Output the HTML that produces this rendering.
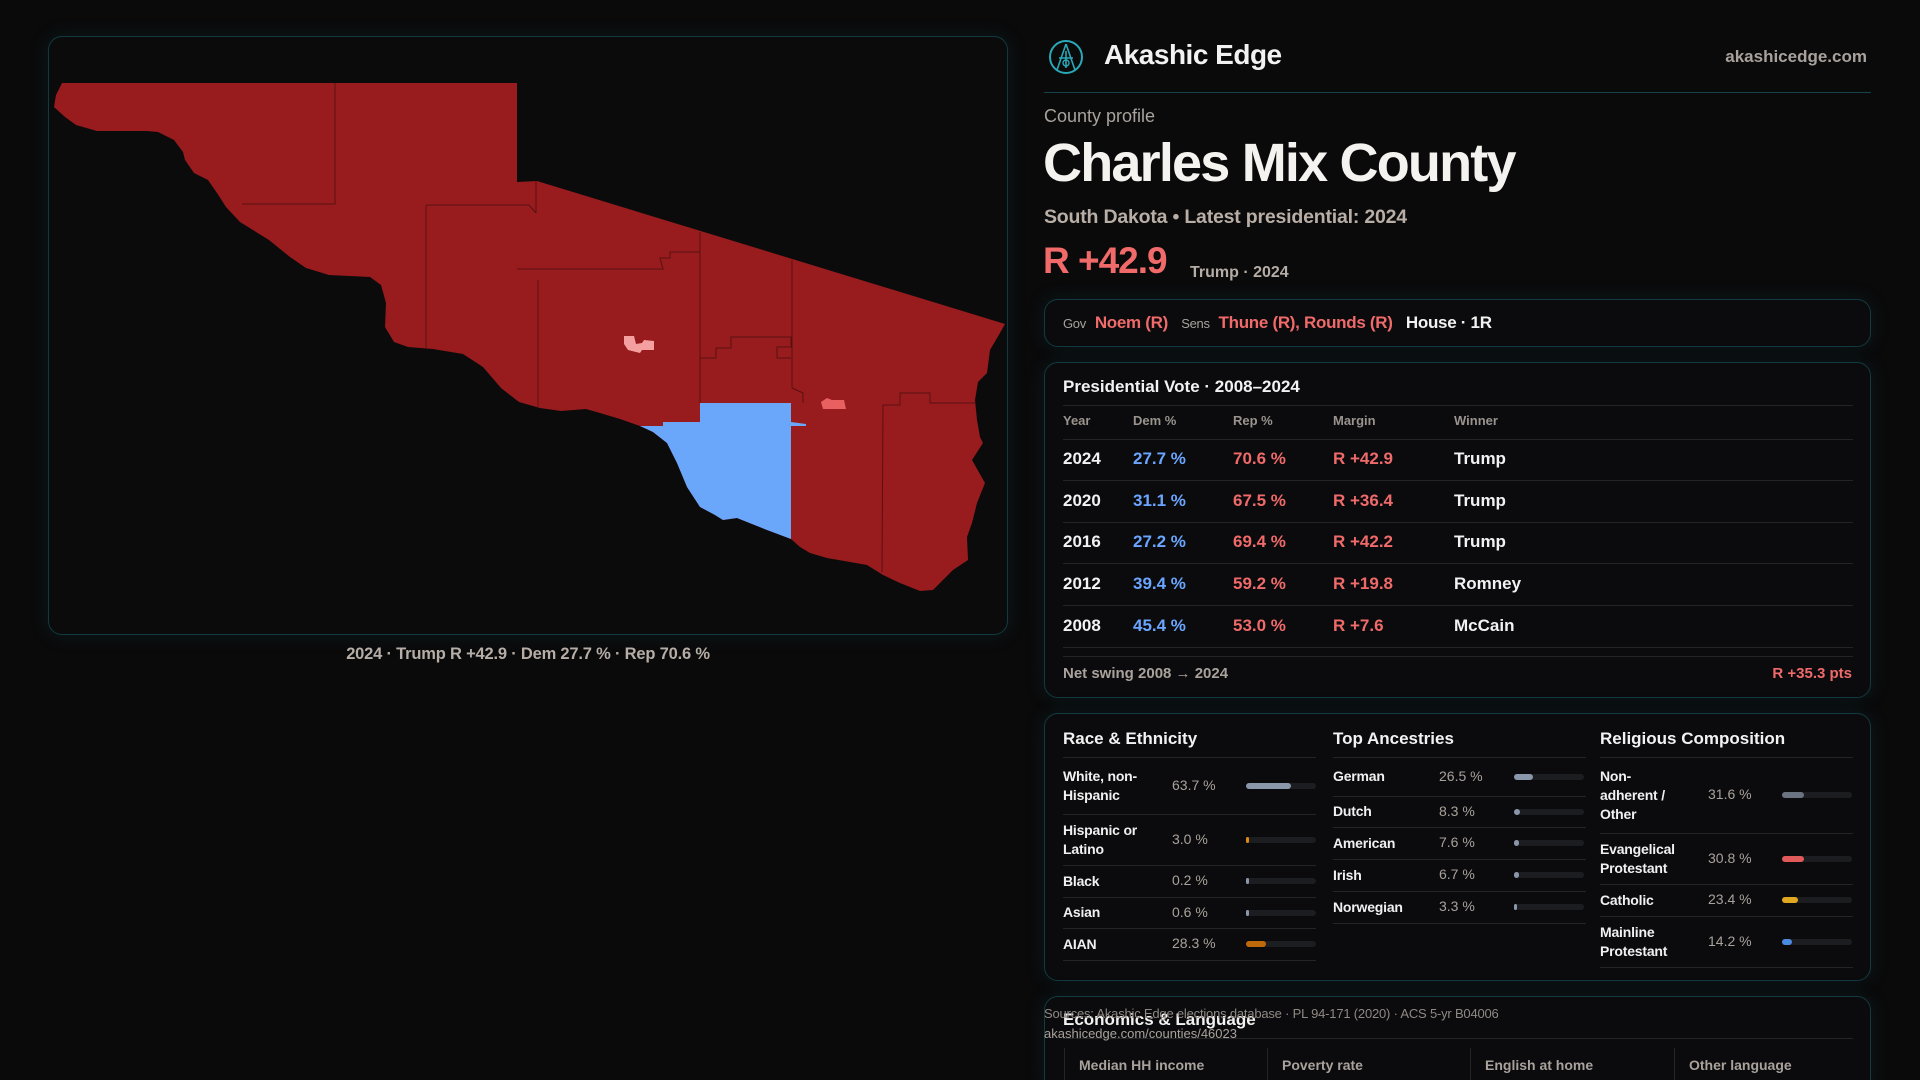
<!DOCTYPE html>
<html><head><meta charset="utf-8"><style>
*{box-sizing:border-box;margin:0;padding:0}
html{width:1920px;height:1080px;overflow:hidden}
body{width:1920px;height:1080px;background:#0a0a0b;font-family:"Liberation Sans",sans-serif;color:#f2f2f2;position:relative;overflow:hidden}
.abs{position:absolute;white-space:nowrap}
.box{position:absolute;border:1px solid #123a40;border-radius:14px;background:#0b0b0d;box-shadow:0 0 18px rgba(20,70,80,.25)}
.g{color:#a9a29c}
.r{color:#f06a6a}.b{color:#6aa6ff}
.hl{position:absolute;height:1px;background:#222426}
.track{position:absolute;height:6px;border-radius:3px;background:#1c1d20}
.fill{position:absolute;left:0;top:0;height:6px;border-radius:3px}
.t17{font-size:17px;font-weight:bold}
.lbl{font-size:14px;font-weight:bold;color:#f0f0f0;line-height:19px;letter-spacing:-.2px}
.val{font-size:14px;color:#a9a29c}
</style></head><body>

<div class="box" style="left:48px;top:36px;width:960px;height:599px;background:#0b0b0c"></div>
<svg class="abs" style="left:0;top:0" width="1020" height="640" viewBox="0 0 1020 640">
<path fill="#981b1e" d="M62,83 L517,83 L517,182 L537,181 L1005,324 L1000,333 L990,350 L987,373 L978,382 L975,400 L977,420 L980,437 L983,443 L972,460 L985,483 L977,503 L972,523 L967,537 L968,560 L953,570 L943,580 L933,590 L920,591 L900,583 L883,575 L867,565 L850,562 L827,558 L810,553 L800,547 L791,539 L767,530 L737,518 L723,520 L715,515 L700,507 L687,487 L677,463 L667,443 L653,432 L640,426 L620,419 L600,413 L586,409 L561,411 L540,408 L519,402 L501,388 L483,367 L463,354 L433,349 L408,347 L394,342 L385,327 L386,303 L381,285 L370,277 L329,275 L306,268 L290,257 L269,240 L240,222 L226,207 L217,193 L208,180 L194,173 L185,160 L183,152 L174,140 L158,132 L147,131 L97,131 L76,125 L65,117 L54,107 L56,95 Z"/>
<path fill="#6aa6fa" d="M640,426 L663,426 L663,422 L700,422 L700,403 L791,403 L791,422 L806,424 L806,426 L791,426 L791,539 L767,530 L737,518 L723,520 L715,515 L700,507 L687,487 L677,463 L667,443 L653,432 Z"/>
<g stroke="#5a1012" stroke-width="1" fill="none">
<path d="M335,83 L335,204 L242,204 M426,205 L426,349 M426,205 L529,205 L536,213 M536,181 L536,213 M517,269 L600,269 L663,269 L660,258 L670,258 L670,252 L700,252 L700,232 M538,280 L538,407 M700,232 L700,403 M792,260 L792,388 L803,393 L803,403 M700,358 L716,358 L716,348 L731,348 L731,337 L791,337 L791,347 L777,347 L777,358 L791,358 M883,405 L882,572 M883,405 L900,405 L900,393 L930,393 L930,403 L975,403"/>
</g>
<path fill="#f4a0a0" d="M624,336 L634,336 L636,344 L642,343 L644,340 L654,341 L654,350 L642,350 L640,353 L628,350 L624,344 Z"/>
<path fill="#e86060" d="M821,402 L827,398 L832,400 L844,400 L846,409 L823,409 Z"/>
</svg>
<div class="abs g" style="left:0;width:1056px;top:645px;text-align:center;font-size:16.5px;font-weight:bold;color:#b5ada6;letter-spacing:-.2px">2024 · Trump R +42.9 · Dem 27.7 % · Rep 70.6 %</div>

<!-- header -->
<svg class="abs" style="left:1048px;top:39px" width="36" height="36" viewBox="0 0 36 36"><circle cx="18" cy="18" r="16" fill="none" stroke="#2aa8b8" stroke-width="2"/><path d="M18,5 L9,31 M18,5 L27,31 M11,19 L25,19 M18,12 L18,29" stroke="#2aa8b8" stroke-width="1.6" fill="none"/><circle cx="18" cy="24" r="3" fill="none" stroke="#2aa8b8" stroke-width="1.4"/></svg>
<div class="abs" style="left:1104px;top:39px;font-size:28px;font-weight:bold;letter-spacing:-.5px">Akashic Edge</div>
<div class="abs g" style="right:53px;top:47px;font-size:17px;font-weight:bold;color:#a9a29c">akashicedge.com</div>
<div class="hl" style="left:1044px;top:92px;width:827px;background:#15434a"></div>

<div class="abs g" style="left:1044px;top:106px;font-size:18px">County profile</div>
<div class="abs" style="left:1043px;top:132px;font-size:54px;font-weight:bold;letter-spacing:-1.8px;color:#f5f3f0">Charles Mix County</div>
<div class="abs" style="left:1044px;top:206px;font-size:19.5px;font-weight:bold;color:#b8aea6;letter-spacing:-.2px">South Dakota • Latest presidential: 2024</div>
<div class="abs r" style="left:1043px;top:240px;font-size:37px;font-weight:bold;letter-spacing:-1px">R +42.9</div>
<div class="abs g" style="left:1190px;top:264px;font-size:16px;font-weight:bold;color:#b5ada6">Trump · 2024</div>

<div class="box" style="left:1044px;top:299px;width:827px;height:48px"></div>
<div class="abs" style="left:1063px;top:313px;font-size:17px;font-weight:bold;letter-spacing:-.3px">
<span class="g" style="font-size:13px;font-weight:normal">Gov</span>&nbsp; <span class="r">Noem (R)</span>&nbsp;&nbsp; <span class="g" style="font-size:13px;font-weight:normal">Sens</span>&nbsp; <span class="r">Thune (R), Rounds (R)</span>&nbsp;&nbsp; <span>House · 1R</span></div>

<!-- presidential -->
<div class="box" style="left:1044px;top:362px;width:827px;height:336px"></div>
<div class="abs t17" style="left:1063px;top:377px">Presidential Vote · 2008–2024</div>
<div class="hl" style="left:1063px;top:405px;width:790px"></div>
<div class="hl" style="left:1063px;top:439px;width:790px"></div>
<div class="hl" style="left:1063px;top:656px;width:790px"></div>
<div class="abs g" style="left:1063px;top:665px;font-size:15px;font-weight:bold;color:#a9a29c">Net swing 2008 → 2024</div>
<div class="abs r" style="right:68px;top:665px;font-size:15px;font-weight:bold">R +35.3 pts</div>

<!-- demographics -->
<div class="box" style="left:1044px;top:713px;width:827px;height:268px"></div>

<div class="box" style="left:1044px;top:996px;width:827px;height:100px"></div>
<div class="abs t17" style="left:1063px;top:1010px">Economics &amp; Language</div>
<div class="hl" style="left:1063px;top:1038px;width:790px"></div>
<div class="abs" style="left:1044px;top:1006px;font-size:13px;color:#8f8984;letter-spacing:-.2px">Sources: Akashic Edge elections database · PL 94-171 (2020) · ACS 5-yr B04006</div>
<div class="abs" style="left:1044px;top:1026px;font-size:13px;color:#a9a29c">akashicedge.com/counties/46023</div>

<script>
const years=["2024","2020","2016","2012","2008"];
const demPct=[27.7,31.1,27.2,39.4,45.4];
const repPct=[70.6,67.5,69.4,59.2,53.0];
const winners=["Trump","Trump","Trump","Romney","McCain"];
const headers=["Year","Dem %","Rep %","Margin","Winner"];
const colX=[1063,1133,1233,1333,1454];
const raceLabels=["White, non-<br>Hispanic","Hispanic or<br>Latino","Black","Asian","AIAN"];
const raceVals=[63.7,3.0,0.2,0.6,28.3];
const raceColors=["#8a96aa","#d98a10","#8a96aa","#8a96aa","#c0690a"];
const ancLabels=["German","Dutch","American","Irish","Norwegian"];
const ancVals=[26.5,8.3,7.6,6.7,3.3];
const relLabels=["Non-<br>adherent /<br>Other","Evangelical<br>Protestant","Catholic","Mainline<br>Protestant"];
const relVals=[31.6,30.8,23.4,14.2];
const relColors=["#6b7280","#e05a5a","#e0a820","#4a8ae0"];
const econHeaders=["Median HH income","Poverty rate","English at home","Other language"];

function mk(html,style,name,inter){const d=document.createElement('div');d.className='abs';d.innerHTML=html;d.style.cssText=style;


document.body.appendChild(d);return d;}

headers.forEach((h,i)=>{mk(h,`left:${colX[i]}px;top:413px;font-size:13px;color:#9a938e;font-weight:bold`,'col-header-'+h.toLowerCase().replace(/\W+/g,''),false);});
years.forEach((y,i)=>{
 const cy=459+i*41.7;const top=cy-10;
 const m=repPct[i]-demPct[i];
 mk(y,`left:${colX[0]}px;top:${top}px;font-size:17px;font-weight:bold`,'year-'+y,false);
 mk(demPct[i].toFixed(1)+' %',`left:${colX[1]}px;top:${top}px;font-size:17px;font-weight:bold;color:#6aa6ff`,'dem-pct-'+y,false);
 mk(repPct[i].toFixed(1)+' %',`left:${colX[2]}px;top:${top}px;font-size:17px;font-weight:bold;color:#f06a6a`,'rep-pct-'+y,false);
 mk((m>=0?'R +':'D +')+Math.abs(m).toFixed(1),`left:${colX[3]}px;top:${top}px;font-size:17px;font-weight:bold;color:#f06a6a`,'margin-'+y,false);
 mk(winners[i],`left:${colX[4]}px;top:${top}px;font-size:17px;font-weight:bold`,'winner-'+y,false);
 const l=document.createElement('div');l.className='hl';l.style.cssText=`left:1063px;top:${cy+21}px;width:790px`;
 
 
 document.body.appendChild(l);
});

function section(title,x,labels,vals,colors,rowLines,valX,barX,name){
 mk(title,`left:${x}px;top:729px;font-size:17px;font-weight:bold`,name+'-title',false);
 const hl=document.createElement('div');hl.className='hl';hl.style.cssText=`left:${x}px;top:757px;width:253px`;
 
 
 document.body.appendChild(hl);
 let prev=757;
 labels.forEach((lb,i)=>{
  const bottom=rowLines[i];const cy=(prev+bottom)/2;
  const lines=(lb.match(/<br>/g)||[]).length+1;
  mk(lb,`left:${x}px;top:${cy-lines*9.5}px;`,name+'-label-'+i,false).className='abs lbl';
  mk(vals[i].toFixed(1)+' %',`left:${valX}px;top:${cy-9}px;`,name+'-value-'+i,false).className='abs val';
  const t=document.createElement('div');t.className='track';t.style.cssText=`left:${barX}px;top:${cy-3}px;width:70px`;
  
  
  const f=document.createElement('div');f.className='fill';
  f.style.width=Math.max(3,vals[i]/100*70)+'px';f.style.background=colors[i];
  t.appendChild(f);document.body.appendChild(t);
  const d=document.createElement('div');d.className='hl';d.style.cssText=`left:${x}px;top:${bottom}px;width:253px`;
  
  
  document.body.appendChild(d);
  prev=bottom;
 });
}
section('Race &amp; Ethnicity',1063,raceLabels,raceVals,raceColors,[814,865,897,928,960],1172,1246,'race');
section('Top Ancestries',1333,ancLabels,ancVals,ancLabels.map(()=>'#8a96aa'),[796,827,859,891,923],1439,1514,'ancestry');
section('Religious Composition',1600,relLabels,relVals,relColors,[833,884,916,967],1708,1782,'religion');

const ex=[1064,1267,1470,1674];
econHeaders.forEach((h,i)=>{
 mk(h,`left:${ex[i]+15}px;top:1057px;font-size:14px;color:#a9a29c;font-weight:bold`,'econ-header-'+i,false);
 const v=document.createElement('div');v.className='abs';v.style.cssText=`left:${ex[i]}px;top:1048px;width:1px;height:40px;background:#222426`;
 
 
 document.body.appendChild(v);
});
</script>
</body></html>
